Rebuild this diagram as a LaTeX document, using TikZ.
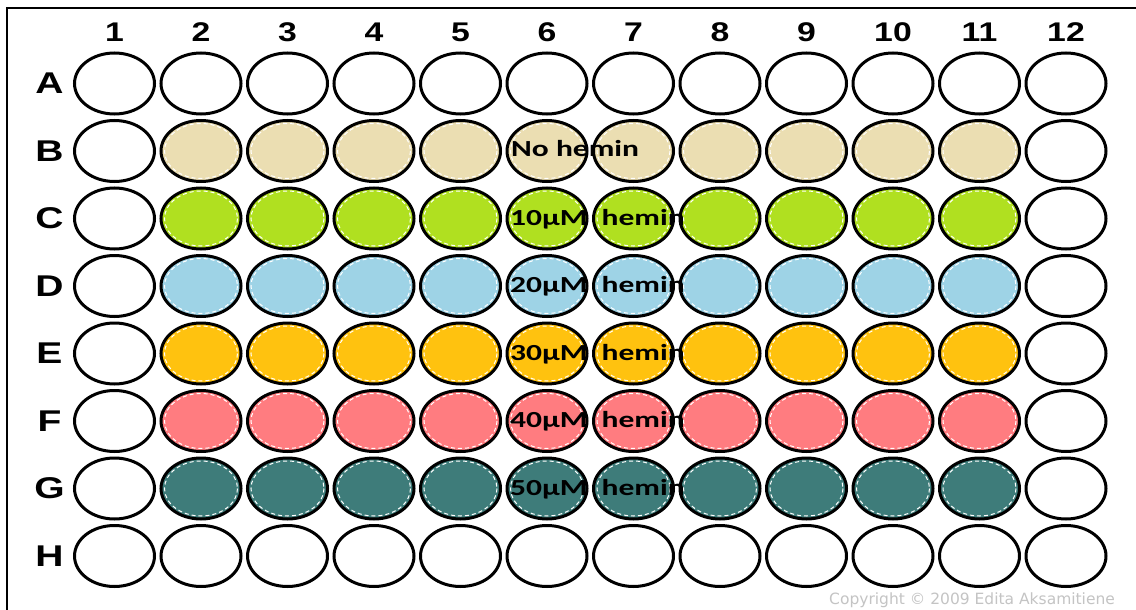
\documentclass[tikz,border=0pt]{standalone}
\usepackage{fontspec}
\setmainfont{Liberation Sans}
\newfontfamily\calib{Carlito}
\newfontfamily\dejavu{DejaVu Sans}
\definecolor{cB}{RGB}{235,222,178}
\definecolor{cC}{RGB}{176,224,32}
\definecolor{cD}{RGB}{158,211,230}
\definecolor{cE}{RGB}{255,194,15}
\definecolor{cF}{RGB}{255,124,128}
\definecolor{cG}{RGB}{62,124,122}
\definecolor{cpy}{RGB}{196,196,196}
\tikzset{
  well/.style={draw=black, line width=3pt, ellipse, minimum width=80pt, minimum height=61pt, inner sep=0pt},
  inner/.style={draw=white, line width=1pt, dash pattern=on 4pt off 3pt},
  collab/.style={font=\fontsize{27}{27}\selectfont\bfseries, anchor=center},
  rowlab/.style={font=\fontsize{30}{30}\selectfont\bfseries, anchor=center},
  conc/.style={font=\fontsize{23}{23}\selectfont\calib\bfseries, anchor=base west, inner sep=0pt},
  copy/.style={font=\fontsize{15.5}{15.5}\selectfont\dejavu, text=cpy, anchor=west, inner sep=0pt}
}
\usetikzlibrary{shapes.geometric}
\begin{document}
\begin{tikzpicture}[x=1pt,y=-1pt]
\useasboundingbox (0,0) rectangle (1136,610);
\fill[white] (0,0) rectangle (1136,610);
\draw[line width=2pt] (7,610) -- (7,8) -- (1136,8);
% column labels
\foreach \c in {1,...,12} {
  \node[collab] (col\c) at ({114.5+(\c-1)*86.5},32) {\scalebox{1.25}[1]{\c}};
}
% row labels
\foreach \r/\l in {1/A,2/B,3/C,4/D,5/E,6/F,7/G,8/H} {
  \node[rowlab] (row\l) at (49.5,{83.5+(\r-1)*67.5}) {\scalebox{1.3}[1]{\l}};
}
% wells
\foreach \r/\l/\col in {1/A/white,2/B/cB,3/C/cC,4/D/cD,5/E/cE,6/F/cF,7/G/cG,8/H/white} {
  \foreach \c in {1,...,12} {
    \pgfmathsetmacro{\xx}{114.5+(\c-1)*86.5}
    \pgfmathsetmacro{\yy}{83.5+(\r-1)*67.5}
    \ifnum\c=1
      \node[well, fill=white] (w\l\c) at (\xx,\yy) {};
    \else\ifnum\c=12
      \node[well, fill=white] (w\l\c) at (\xx,\yy) {};
    \else
      \node[well, fill=\col] (w\l\c) at (\xx,\yy) {};
      \ifnum\r>1\ifnum\r<8
        \draw[inner] (\xx,\yy) ellipse [x radius=36.5, y radius=27.5];
      \fi\fi
    \fi\fi
  }
}
% concentration labels
\node[conc] (tB) at (511,157) {\scalebox{1.37}[1]{No hemin}};
\node[conc] (tC) at (510,225) {\scalebox{1.37}[1]{10μM\ \ hemin}};
\node[conc] (tD) at (510,292.5) {\scalebox{1.37}[1]{20μM\ \ hemin}};
\node[conc] (tE) at (510,360) {\scalebox{1.37}[1]{30μM\ \ hemin}};
\node[conc] (tF) at (510,427.5) {\scalebox{1.37}[1]{40μM\ \ hemin}};
\node[conc] (tG) at (510,495) {\scalebox{1.37}[1]{50μM\ \ hemin}};
% copyright
\node[copy] (cp) at (829,600) {Copyright © 2009 Edita Aksamitiene};
\end{tikzpicture}
\end{document}
